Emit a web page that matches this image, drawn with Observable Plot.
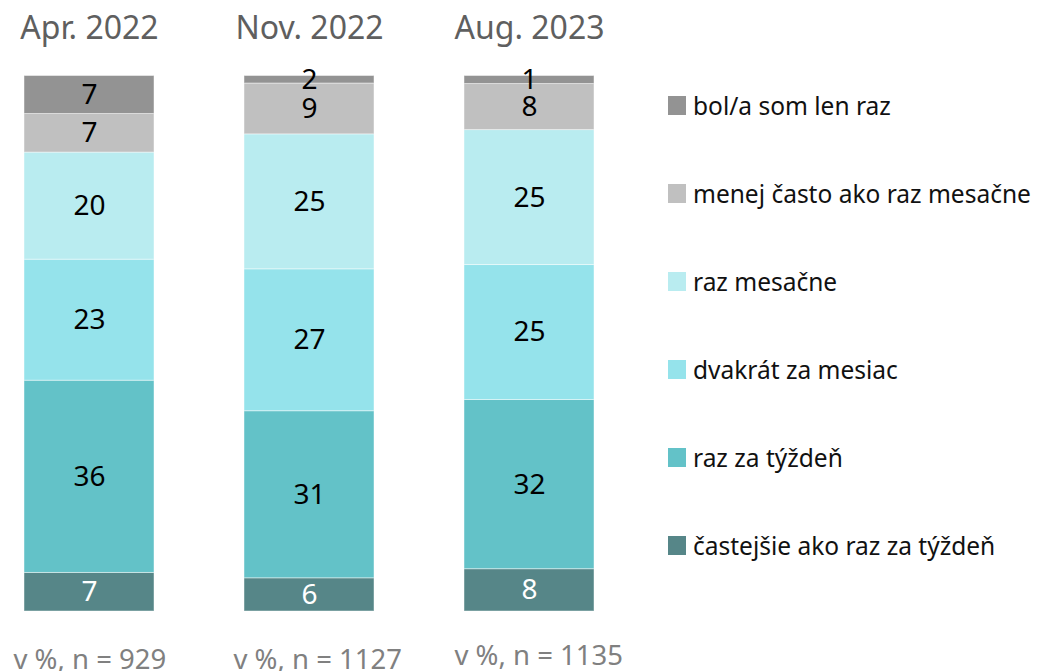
<!DOCTYPE html>
<html>
<head>
<meta charset="utf-8">
<script src="https://cdn.jsdelivr.net/npm/d3@7"></script>
<script src="https://cdn.jsdelivr.net/npm/@observablehq/plot@0.6"></script>
<style>
  html, body { margin: 0; padding: 0; background: #fff; }
  #wrap { position: relative; width: 1041px; height: 671px; overflow: hidden; }
  #chart { position: absolute; left: 0; top: 0; }
  #legend { position: absolute; left: 668px; top: 0; font-family: "Noto Sans", sans-serif; font-size: 24.5px; color: #111; }
  .row { position: absolute; left: 0; display: flex; align-items: center; white-space: nowrap; height: 19px; }
  .sw { width: 18px; height: 19px; margin-right: 7px; flex: none; }
</style>
</head>
<body>
<div id="wrap">
  <div id="chart"></div>
  <div id="legend"></div>
</div>
<script>
const periods = ["Apr. 2022", "Nov. 2022", "Aug. 2023"];
const categories = [
  "častejšie ako raz za týždeň",
  "raz za týždeň",
  "dvakrát za mesiac",
  "raz mesačne",
  "menej často ako raz mesačne",
  "bol/a som len raz"
];
const colors = ["#568688", "#63c2c8", "#95e3eb", "#b9ecf0", "#c0c0c0", "#939393"];
// bar heights (estimated shares, bottom to top)
const valuesApr = [7.2, 35.9, 22.6, 20.0, 7.2, 7.1];
const valuesNov = [6.2, 31.2, 26.5, 25.2, 9.5, 1.4];
const valuesAug = [7.9, 31.6, 25.2, 25.2, 8.6, 1.5];
// printed labels
const labelsApr = [7, 36, 23, 20, 7, 7];
const labelsNov = [6, 31, 27, 25, 9, 2];
const labelsAug = [8, 32, 25, 25, 8, 1];
const sampleSizes = [929, 1127, 1135];

const valueSets = [valuesApr, valuesNov, valuesAug];
const labelSets = [labelsApr, labelsNov, labelsAug];
const data = [];
periods.forEach((p, i) => {
  categories.forEach((c, j) => {
    data.push({period: p, cat: c, value: valueSets[i][j], label: String(labelSets[i][j])});
  });
});
const captions = periods.map((p, i) => ({period: p, text: `v %, n = ${sampleSizes[i]}`}));

const chart = Plot.plot({
  width: 640,
  height: 671,
  marginTop: 75.5,
  marginBottom: 60,
  marginLeft: 0,
  marginRight: 0,
  x: {domain: periods, range: [24, 594], paddingInner: 90 / 220, paddingOuter: 0, axis: null},
  y: {domain: [0, 100], axis: null},
  color: {domain: categories, range: colors},
  style: {fontFamily: "'Noto Sans', sans-serif", overflow: "visible", background: "transparent"},
  marks: [
    Plot.barY(data, Plot.stackY({
      x: "period", y: "value", z: "cat", fill: "cat", order: categories,
      stroke: "white", strokeOpacity: 0.45, strokeWidth: 1
    })),
    Plot.text(data, Plot.stackY({
      x: "period", y: "value", z: "cat", order: categories,
      text: d => d.cat === categories[0] ? "" : d.label,
      fill: "#000", fontSize: 28
    })),
    Plot.text(data, Plot.stackY({
      x: "period", y: "value", z: "cat", order: categories,
      text: d => d.cat === categories[0] ? d.label : "",
      fill: "#fff", fontSize: 28
    })),
    Plot.text(periods, {
      x: d => d, text: d => d, frameAnchor: "top", dy: -60,
      fontSize: 32, fill: "#5f5f5f"
    }),
    Plot.text(captions, {
      filter: d => d.period !== periods[2],
      x: "period", text: "text", frameAnchor: "bottom", dy: 57,
      textAnchor: "start", dx: -76, fontSize: 27.5, fill: "#808080"
    }),
    Plot.text(captions, {
      filter: d => d.period === periods[2],
      x: "period", text: "text", frameAnchor: "bottom", dy: 53,
      textAnchor: "start", dx: -75, fontSize: 27.5, fill: "#808080"
    })
  ]
});
document.getElementById("chart").appendChild(chart);

const legend = document.getElementById("legend");
categories.slice().reverse().forEach((c, i) => {
  const row = document.createElement("div");
  row.className = "row";
  row.style.top = (96 + i * 88) + "px";
  const sw = document.createElement("div");
  sw.className = "sw";
  sw.style.background = colors[categories.indexOf(c)];
  const t = document.createElement("span");
  t.textContent = c;
  row.appendChild(sw);
  row.appendChild(t);
  legend.appendChild(row);
});
</script>
</body>
</html>
